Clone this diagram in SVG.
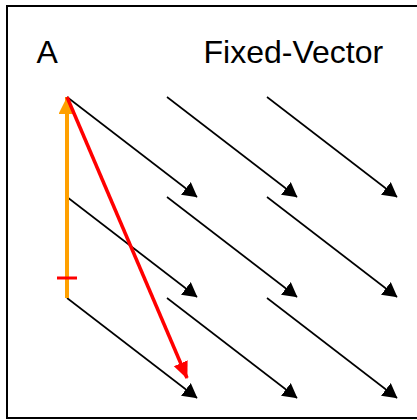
<svg xmlns="http://www.w3.org/2000/svg" width="417" height="420" viewBox="0 0 417 420">
<style>
.lbl{font-family:"Liberation Sans",Arial,sans-serif;font-size:32px;fill:#000}
.vec{stroke:#000;stroke-width:1.6;fill:none}
</style>
<defs>
<marker id="ah" markerUnits="userSpaceOnUse" markerWidth="16" markerHeight="17" refX="14" refY="8" orient="auto" viewBox="0 0 16 17">
<path d="M0,0 L14.5,8 L0,16 Z" fill="#000"/>
</marker>
<marker id="ahr" markerUnits="userSpaceOnUse" markerWidth="18" markerHeight="16" refX="16" refY="7.5" orient="auto" viewBox="0 0 18 16">
<path d="M0,0 L17,7.5 L0,15 Z" fill="#FF0000"/>
</marker>
<marker id="aho" markerUnits="userSpaceOnUse" markerWidth="18" markerHeight="18" refX="17" refY="8.5" orient="auto" viewBox="0 0 18 18">
<path d="M0,0 L17,8.5 L0,17 Z" fill="#FFA000"/>
</marker>
</defs>
<rect x="7" y="6" width="415" height="412" fill="#fff" stroke="#000" stroke-width="2"/>
<g id="labels">
<text class="lbl" x="36.5" y="63">A</text>
<text class="lbl" x="203.5" y="63">Fixed-Vector</text>
</g>
<g id="connectors">
<line class="vec" x1="67" y1="97" x2="197" y2="197" marker-end="url(#ah)"/>
<line class="vec" x1="167" y1="97" x2="297" y2="197" marker-end="url(#ah)"/>
<line class="vec" x1="267" y1="97" x2="397" y2="197" marker-end="url(#ah)"/>
<line class="vec" x1="67" y1="197" x2="197" y2="297" marker-end="url(#ah)"/>
<line class="vec" x1="167" y1="197" x2="297" y2="297" marker-end="url(#ah)"/>
<line class="vec" x1="267" y1="197" x2="397" y2="297" marker-end="url(#ah)"/>
<line class="vec" x1="67" y1="298" x2="197" y2="398" marker-end="url(#ah)"/>
<line class="vec" x1="167" y1="298" x2="297" y2="398" marker-end="url(#ah)"/>
<line class="vec" x1="267" y1="298" x2="397" y2="398" marker-end="url(#ah)"/>
<line x1="67" y1="298" x2="67" y2="97" stroke="#FFA000" stroke-width="4" marker-end="url(#aho)"/>
<line x1="67" y1="97" x2="187" y2="378" stroke="#FF0000" stroke-width="3.5" marker-end="url(#ahr)"/>
<line x1="57" y1="278" x2="77" y2="278" stroke="#FF0000" stroke-width="3"/>
</g>
</svg>
